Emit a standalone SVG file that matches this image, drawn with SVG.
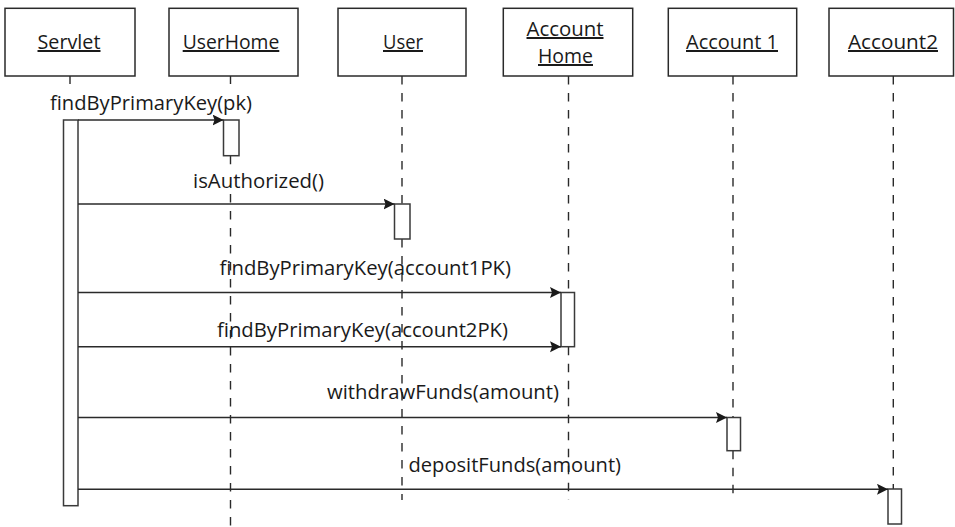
<svg xmlns="http://www.w3.org/2000/svg" width="955" height="527" viewBox="0 0 955 527">
<style>
.box{fill:#fff;stroke:#2a2a2a;stroke-width:1.5}
.act{fill:#fff;stroke:#3a3a3a;stroke-width:1.5}
.life{fill:none;stroke:#2a2a2a;stroke-width:1.4;stroke-dasharray:8.5 8.5}
.msg{fill:none;stroke:#2a2a2a;stroke-width:1.4}
.hdr{font-family:"Open Sans","Noto Sans","Liberation Sans",sans-serif;font-size:20px;fill:#1a1a1a;text-anchor:middle;text-decoration:underline}
.lbl{font-family:"Open Sans","Noto Sans","Liberation Sans",sans-serif;font-size:20px;fill:#1a1a1a}
</style>
<defs>
<marker id="arr" markerUnits="userSpaceOnUse" markerWidth="12" markerHeight="12" refX="11" refY="5.5" orient="auto">
<path d="M0,0 L11,5.5 L0,11 L2,5.5 Z" fill="#1a1a1a"/>
</marker>
</defs>
<rect width="955" height="527" fill="#fff"/>

<g id="lifelines">
<path class="life" d="M70,76 V84"/>
<path class="life" d="M230.5,76 V84 M230.5,155.7 V165 M230.5,194 V527"/>
<path class="life" d="M402,76 V204 M402,239 V500"/>
<path class="life" d="M568.5,76 V292.5 M568.5,346.7 V500"/>
<path class="life" d="M733,76 V417.5 M733,450.7 V500"/>
<path class="life" d="M893.3,76 V489"/>
</g>

<g id="servlet">
<rect class="box" x="5" y="8.3" width="130" height="67.7"/>
<text class="hdr" x="69" y="49" textLength="63" lengthAdjust="spacingAndGlyphs">Servlet</text>
<rect class="act" x="63.5" y="120" width="14.5" height="385.7"/>
</g>
<g id="userhome">
<rect class="box" x="169" y="8.3" width="129" height="67.7"/>
<text class="hdr" x="231" y="49" textLength="96.6" lengthAdjust="spacingAndGlyphs">UserHome</text>
<rect class="act" x="223.5" y="120" width="15.5" height="35.7"/>
</g>
<g id="user">
<rect class="box" x="338" y="8.3" width="128" height="67.7"/>
<text class="hdr" x="403" y="49" textLength="40" lengthAdjust="spacingAndGlyphs">User</text>
<rect class="act" x="394.5" y="204" width="15.5" height="35"/>
</g>
<g id="accounthome">
<rect class="box" x="503.3" y="8.3" width="129.4" height="67.7"/>
<text class="hdr" x="565" y="36" textLength="77" lengthAdjust="spacingAndGlyphs">Account</text>
<text class="hdr" x="565.5" y="63" textLength="55" lengthAdjust="spacingAndGlyphs">Home</text>
<rect class="act" x="561" y="292.5" width="13.5" height="54.2"/>
</g>
<g id="account1">
<rect class="box" x="668.3" y="8.3" width="128.4" height="67.7"/>
<text class="hdr" x="732" y="49" textLength="92" lengthAdjust="spacingAndGlyphs">Account 1</text>
<rect class="act" x="727" y="417.5" width="13.5" height="33.2"/>
</g>
<g id="account2">
<rect class="box" x="829" y="8.3" width="124.5" height="67.7"/>
<text class="hdr" x="893" y="49" textLength="90" lengthAdjust="spacingAndGlyphs">Account2</text>
<rect class="act" x="888" y="489" width="13.5" height="35"/>
</g>

<g id="connectors">
<path class="msg" d="M78,120 H223.5" marker-end="url(#arr)"/>
<path class="msg" d="M78,204 H394.5" marker-end="url(#arr)"/>
<path class="msg" d="M78,292.5 H561" marker-end="url(#arr)"/>
<path class="msg" d="M78,346.7 H561" marker-end="url(#arr)"/>
<path class="msg" d="M78,417.5 H727" marker-end="url(#arr)"/>
<path class="msg" d="M78,489.3 H888" marker-end="url(#arr)"/>
<text class="lbl" x="50" y="109.5" textLength="202" lengthAdjust="spacingAndGlyphs">findByPrimaryKey(pk)</text>
<text class="lbl" x="193" y="188" textLength="131" lengthAdjust="spacingAndGlyphs">isAuthorized()</text>
<text class="lbl" x="219.5" y="274.5" textLength="291.5" lengthAdjust="spacingAndGlyphs">findByPrimaryKey(account1PK)</text>
<text class="lbl" x="217" y="336.5" textLength="291" lengthAdjust="spacingAndGlyphs">findByPrimaryKey(account2PK)</text>
<text class="lbl" x="327" y="399.3" textLength="232" lengthAdjust="spacingAndGlyphs">withdrawFunds(amount)</text>
<text class="lbl" x="408.5" y="471.7" textLength="212.5" lengthAdjust="spacingAndGlyphs">depositFunds(amount)</text>
</g>
</svg>
